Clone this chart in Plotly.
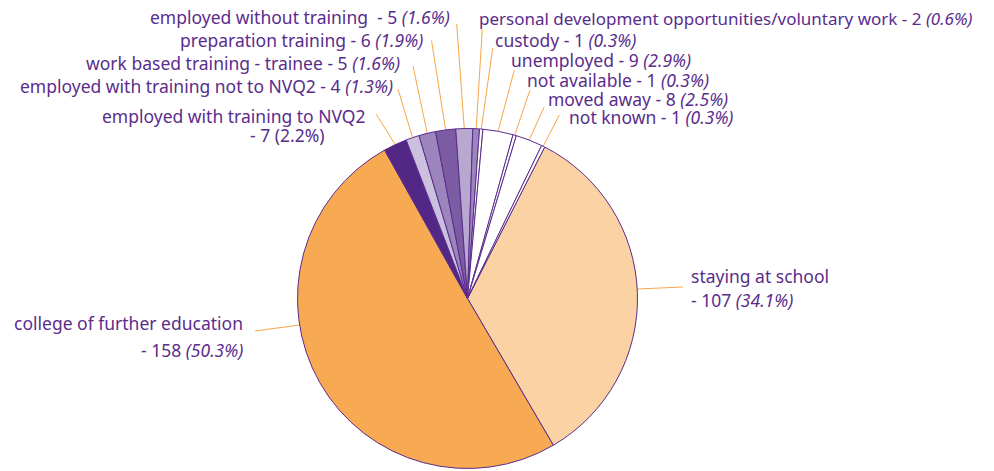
import math
import plotly.graph_objects as go

# ---- data ----
categories = [
    "staying at school", "college of further education",
    "employed with training to NVQ2", "employed with training not to NVQ2",
    "work based training - trainee", "preparation training",
    "employed without training", "personal development opportunities/voluntary work",
    "custody", "unemployed", "not available", "moved away", "not known",
]
values = [107, 158, 7, 4, 5, 6, 5, 2, 1, 9, 1, 8, 1]
percents = ["34.1%", "50.3%", "2.2%", "1.3%", "1.6%", "1.9%", "1.6%", "0.6%",
            "0.3%", "2.9%", "0.3%", "2.5%", "0.3%"]

colors = ["#FAD2A3", "#F8AA52", "#532785", "#CBC1DE", "#9C85BC", "#7B5CA2",
          "#B8A8D0", "#9C85BC", "#FFFFFF", "#FFFFFF", "#FFFFFF", "#FFFFFF", "#FFFFFF"]

W, H = 994, 471
OFF = 8  # page body margin
CX, CY, R = 467.5, 298.5, 170.0
ROT = 27.0
TXT = "#5A2D8C"
LINE = "#F8A64A"
FONT = "Noto Sans"
FS = 17.5


def px(x, y):
    return (x - OFF) / W, 1 - (y - OFF) / H


dx0, dy1 = px(CX - R, CY - R)
dx1, dy0 = px(CX + R, CY + R)

fig = go.Figure(go.Pie(
    labels=categories, values=values, sort=False, direction="clockwise",
    rotation=ROT, textinfo="none", hoverinfo="label+value+percent",
    marker=dict(colors=colors, line=dict(color="#5B2C8C", width=1)),
    domain=dict(x=[dx0, dx1], y=[dy0, dy1]),
    showlegend=False,
))

total = sum(values)
mids = []
acc = 0
for v in values:
    mids.append(ROT + (acc + v / 2) / total * 360)
    acc += v

labels = [
    (0, [("staying at school", 691, 276, "left"), (f"- {values[0]} <i>({percents[0]})</i>", 691, 300, "left")], (683, 287), ("y", 289)),
    (1, [("college of further education", 243, 323, "right"), (f"- {values[1]} <i>({percents[1]})</i>", 243, 350, "right")], (255, 331), ("y", 325)),
    (2, [("employed with training to NVQ2", 366, 115.5, "right"), (f"- {values[2]} ({percents[2]})", 325, 135, "right")], (376, 114), ("mid",)),
    (3, [(f"employed with training not to NVQ2 - {values[3]} <i>({percents[3]})</i>", 393, 86.5, "right")], (398, 89), ("mid",)),
    (4, [(f"work based training - trainee - {values[4]} <i>({percents[4]})</i>", 400, 63, "right")], (413, 66), ("mid",)),
    (5, [(f"preparation training - {values[5]} <i>({percents[5]})</i>", 423, 40.5, "right")], (431.5, 40.5), ("mid",)),
    (6, [(f"employed without training  - {values[6]} <i>({percents[6]})</i>", 450, 17.5, "right")], (456.7, 24), ("mid",)),
    (7, [(f"personal development opportunities/voluntary work - {values[7]} <i>({percents[7]})</i>", 479, 18.5, "left", 17)], (482.3, 29.3), ("mid",)),
    (8, [(f"custody - {values[8]} <i>({percents[8]})</i>", 495, 40.5, "left")], (492.7, 48.3), ("mid",)),
    (9, [(f"unemployed - {values[9]} <i>({percents[9]})</i>", 510.7, 60.5, "left")], (514.3, 70), ("mid",)),
    (10, [(f"not available - {values[10]} <i>({percents[10]})</i>", 527.3, 80.5, "left")], (530, 90), ("mid",)),
    (11, [(f"moved away - {values[11]} <i>({percents[11]})</i>", 548.3, 99, "left")], (544, 107.3), ("mid",)),
    (12, [(f"not known - {values[12]} <i>({percents[12]})</i>", 569.3, 116.5, "left")], (559.3, 115), ("mid",)),
]

annotations = []
shapes = []
for idx, lines, start, target in labels:
    for item in lines:
        text, x, y, xa = item[:4]
        size = item[4] if len(item) > 4 else FS
        ax_, ay_ = px(x, y)
        annotations.append(dict(text=text, x=ax_, y=ay_, xref="paper", yref="paper",
                                xanchor=xa, yanchor="middle", showarrow=False,
                                borderpad=0, borderwidth=0,
                                font=dict(family=FONT, size=size, color=TXT)))
    if target[0] == "mid":
        a = math.radians(mids[idx])
        ex, ey = CX + R * math.sin(a), CY - R * math.cos(a)
    else:
        ty = target[1]
        dx = math.sqrt(R * R - (ty - CY) ** 2)
        ex = CX + dx if start[0] > CX else CX - dx
        ey = ty
    x0, y0 = px(*start)
    x1, y1 = px(ex, ey)
    shapes.append(dict(type="line", xref="paper", yref="paper", x0=x0, y0=y0, x1=x1, y1=y1,
                       line=dict(color=LINE, width=1), layer="below"))

fig.update_layout(
    width=W, height=H, margin=dict(l=0, r=0, t=0, b=0),
    paper_bgcolor="white", plot_bgcolor="white",
    annotations=annotations, shapes=shapes,
)
fig.write_html("out.html")
